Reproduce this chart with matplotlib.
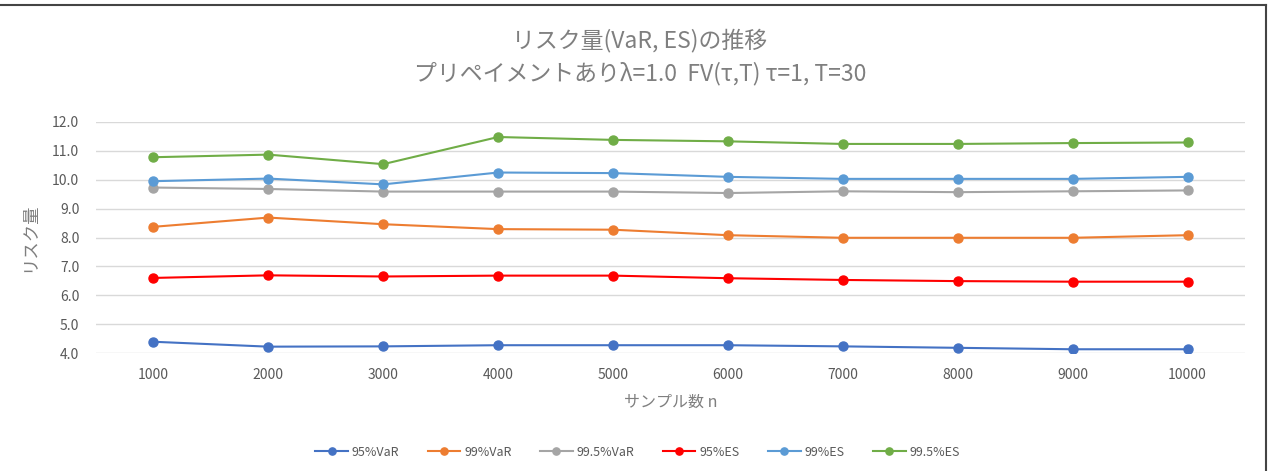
"""Risk measures (VaR, ES) by sample size, prepayment case."""

import matplotlib

matplotlib.use("Agg")
import matplotlib.pyplot as plt
from matplotlib.lines import Line2D

plt.rcParams["font.family"] = ["Noto Sans CJK JP", "DejaVu Sans"]

SAMPLE_SIZES = ["1000", "2000", "3000", "4000", "5000",
                "6000", "7000", "8000", "9000", "10000"]

VAR_95 = [4.39, 4.22, 4.23, 4.27, 4.27, 4.27, 4.23, 4.18, 4.13, 4.13]
VAR_99 = [8.37, 8.69, 8.46, 8.29, 8.27, 8.08, 7.99, 7.99, 7.99, 8.08]
VAR_995 = [9.73, 9.68, 9.59, 9.59, 9.59, 9.54, 9.60, 9.57, 9.60, 9.63]
ES_95 = [6.60, 6.69, 6.65, 6.68, 6.68, 6.59, 6.53, 6.49, 6.47, 6.47]
ES_99 = [9.95, 10.04, 9.84, 10.25, 10.23, 10.10, 10.03, 10.03, 10.03, 10.10]
ES_995 = [10.78, 10.87, 10.54, 11.48, 11.38, 11.33, 11.24, 11.24, 11.27, 11.29]

SERIES = [
    ("95%VaR", VAR_95, "#4472C4"),
    ("99%VaR", VAR_99, "#ED7D31"),
    ("99.5%VaR", VAR_995, "#A5A5A5"),
    ("95%ES", ES_95, "#FF0000"),
    ("99%ES", ES_99, "#5B9BD5"),
    ("99.5%ES", ES_995, "#70AD47"),
]

TEXT = "#7F7F7F"
TICK = "#595959"

fig = plt.figure(figsize=(12.75, 4.71), dpi=100)
ax = fig.add_axes([0.0753, 0.2505, 0.9012, 0.4905])

x = range(len(SAMPLE_SIZES))
for label, values, color in SERIES:
    ax.plot(x, values, color=color, linewidth=1.5, marker="o",
            markersize=6.5, label=label)

ax.set_xlim(-0.5, len(SAMPLE_SIZES) - 0.5)
ax.set_ylim(4.0, 12.0)
ax.set_xticks(list(x))
ax.set_xticklabels(SAMPLE_SIZES)
ax.set_yticks([4 + i for i in range(9)])
ax.set_yticklabels([f"{4 + i:.1f}" for i in range(9)])
ax.tick_params(axis="both", length=0, labelsize=10, colors=TICK)
ax.tick_params(axis="x", pad=11)
ax.tick_params(axis="y", pad=12)
ax.grid(axis="y", color="#D9D9D9", linewidth=1)
ax.set_axisbelow(True)
for spine in ax.spines.values():
    spine.set_visible(False)

ax.set_xlabel("サンプル数 n", fontsize=11.5, color=TEXT, labelpad=8)
ax.set_ylabel("リスク量", fontsize=12.5, color=TEXT, labelpad=10)

fig.text(0.502, 0.915, "リスク量(VaR, ES)の推移", ha="center", va="center",
         fontsize=16.5, color=TEXT)
fig.text(0.502, 0.843, "プリペイメントありλ=1.0  FV(τ,T) τ=1, T=30",
         ha="center", va="center", fontsize=16.5, color=TEXT)

legend = fig.legend(loc="center", bbox_to_anchor=(0.5, 0.04), ncol=6,
                    frameon=False, fontsize=9, labelcolor=TICK,
                    handlelength=2.6, columnspacing=2.3, handletextpad=0.3,
                    markerscale=0.8)

# chart frame (only top and right edges are visible in the screenshot)
fig.add_artist(Line2D([0, 1266 / 1275], [1 - 5 / 471, 1 - 5 / 471],
                      transform=fig.transFigure, color="#444444", linewidth=1.5))
fig.add_artist(Line2D([1266 / 1275, 1266 / 1275], [0, 1 - 5 / 471],
                      transform=fig.transFigure, color="#444444", linewidth=1.5))

fig.savefig("out.png", dpi=100)
